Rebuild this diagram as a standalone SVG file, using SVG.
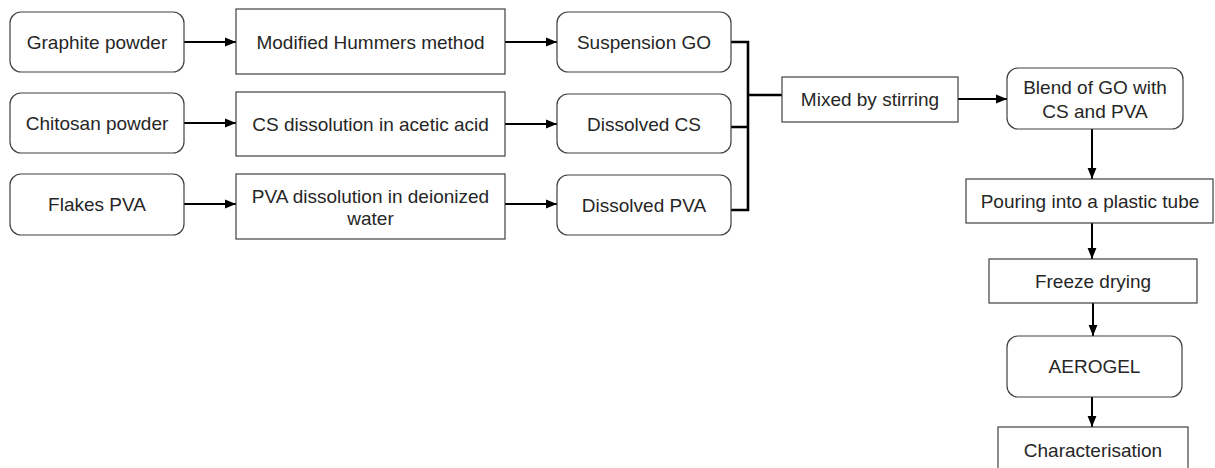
<svg xmlns="http://www.w3.org/2000/svg" width="1215" height="468" viewBox="0 0 1215 468">
<style>
.box{fill:#fff;stroke:#404040;stroke-width:1.2}
.t{font-family:"Liberation Sans",Arial,sans-serif;font-size:19px;fill:#262626;text-anchor:middle}
.c{stroke:#000;stroke-width:2;fill:none}
.b{stroke:#000;stroke-width:2.6;fill:none}
</style>
<defs>
<marker id="ah" viewBox="0 0 10 10" refX="10" refY="5" markerWidth="5.5" markerHeight="5.5" orient="auto" markerUnits="strokeWidth">
<path d="M0,1 L10,5 L0,9 z" fill="#000"/>
</marker>
</defs>
<rect width="1215" height="468" fill="#fff"/>
<g id="connectors">
<line class="c" x1="184" y1="42" x2="236" y2="42" marker-end="url(#ah)"/>
<line class="c" x1="184" y1="123" x2="236" y2="123" marker-end="url(#ah)"/>
<line class="c" x1="184" y1="204" x2="236" y2="204" marker-end="url(#ah)"/>
<line class="c" x1="505" y1="42" x2="557" y2="42" marker-end="url(#ah)"/>
<line class="c" x1="505" y1="124" x2="557" y2="124" marker-end="url(#ah)"/>
<line class="c" x1="505" y1="204" x2="557" y2="204" marker-end="url(#ah)"/>
<path class="b" d="M731,42 H748 V210 H731 M731,127 H748 M748,95 H783"/>
<line class="c" x1="958" y1="99" x2="1007" y2="99" marker-end="url(#ah)"/>
<line class="c" x1="1092" y1="129" x2="1092" y2="179" marker-end="url(#ah)"/>
<line class="c" x1="1092" y1="223" x2="1092" y2="259" marker-end="url(#ah)"/>
<line class="c" x1="1093" y1="303" x2="1093" y2="336" marker-end="url(#ah)"/>
<line class="c" x1="1092" y1="397" x2="1092" y2="427" marker-end="url(#ah)"/>
</g>
<g id="graphite"><rect class="box" x="10" y="12" width="174" height="60" rx="11"/><text class="t" x="97" y="49">Graphite powder</text></g>
<g id="chitosan"><rect class="box" x="10" y="93" width="174" height="60" rx="11"/><text class="t" x="97" y="130">Chitosan powder</text></g>
<g id="flakes"><rect class="box" x="10" y="174" width="174" height="61" rx="11"/><text class="t" x="97" y="211">Flakes PVA</text></g>
<g id="hummers"><rect class="box" x="236" y="9" width="269" height="65"/><text class="t" x="370.5" y="49">Modified Hummers method</text></g>
<g id="csdiss"><rect class="box" x="236" y="92" width="269" height="64"/><text class="t" x="370.5" y="131">CS dissolution in acetic acid</text></g>
<g id="pvadiss"><rect class="box" x="236" y="174" width="269" height="65"/><text class="t" x="370.5" y="203">PVA dissolution in deionized</text><text class="t" x="370.5" y="225">water</text></g>
<g id="suspgo"><rect class="box" x="557" y="12" width="174" height="60" rx="11"/><text class="t" x="644" y="49">Suspension GO</text></g>
<g id="dcs"><rect class="box" x="557" y="94" width="174" height="59" rx="11"/><text class="t" x="644" y="131">Dissolved CS</text></g>
<g id="dpva"><rect class="box" x="557" y="175" width="174" height="60" rx="11"/><text class="t" x="644" y="212">Dissolved PVA</text></g>
<g id="mixed"><rect class="box" x="782" y="77" width="176" height="45"/><text class="t" x="870" y="106">Mixed by stirring</text></g>
<g id="blend"><rect class="box" x="1007" y="68" width="176" height="61" rx="11"/><text class="t" x="1095" y="94">Blend of GO with</text><text class="t" x="1095" y="118">CS and PVA</text></g>
<g id="pouring"><rect class="box" x="966" y="179" width="247" height="44"/><text class="t" x="1090" y="208">Pouring into a plastic tube</text></g>
<g id="freeze"><rect class="box" x="989" y="259" width="208" height="44"/><text class="t" x="1093" y="288">Freeze drying</text></g>
<g id="aerogel"><rect class="box" x="1007" y="336" width="175" height="61" rx="11"/><text class="t" x="1094.5" y="373">AEROGEL</text></g>
<g id="charac"><rect class="box" x="998" y="427" width="190" height="46"/><text class="t" x="1093" y="457">Characterisation</text></g>
</svg>
